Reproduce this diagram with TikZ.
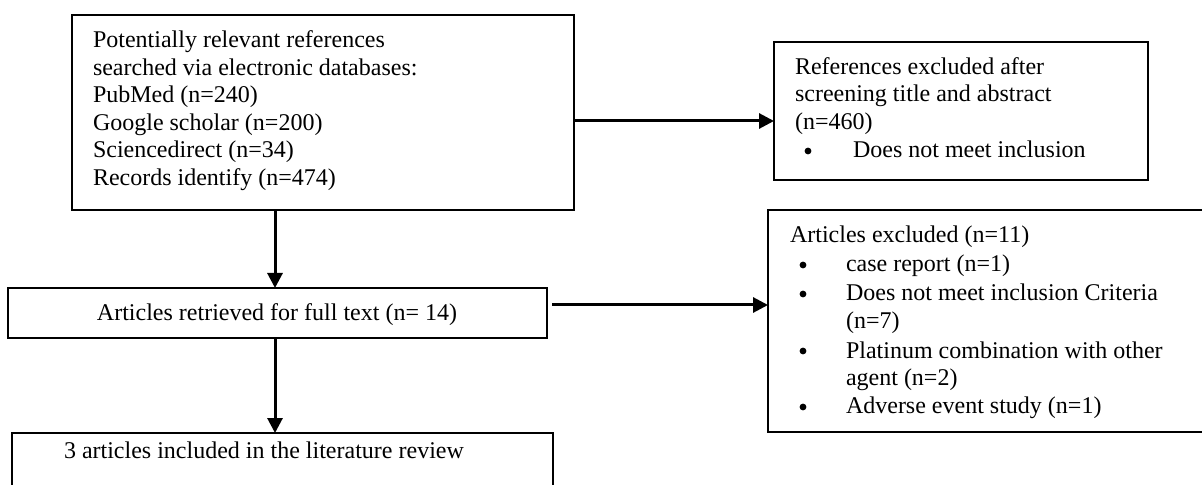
\documentclass[tikz,border=0pt]{standalone}
\usepackage{fontspec}
\setmainfont{Liberation Serif}
\usetikzlibrary{fit,arrows.meta}
\begin{document}
\begin{tikzpicture}[x=0.5pt,y=-0.5pt,
  box/.style={draw, line width=1pt, inner sep=0pt, outer sep=0pt},
  txt/.style={anchor=base west, inner sep=0pt, outer sep=0pt, font=\fontsize{12}{13.8}\selectfont},
  ctxt/.style={anchor=base, inner sep=0pt, outer sep=0pt, font=\fontsize{12}{13.8}\selectfont},
  dot/.style={circle, fill, inner sep=0pt, outer sep=0pt, minimum size=3.4pt},
  arr/.style={line width=1.5pt, -{Triangle[length=7.5pt,width=7.5pt]}}]
\fill[white] (0,0) rectangle (1202,485);
\useasboundingbox (0,0) rectangle (1202,485);

% boxes
\node[box, fit={(72,15) (574,210)}] (A) {};
\node[box, fit={(774,42) (1148,180)}] (E) {};
\node[box, fit={(8,288) (547,338)}] (B) {};
\node[box, fit={(768,210) (1215,432)}] (D) {};
\node[box, fit={(12,433) (553,500)}] (C) {};

% text of A
\node[txt] (a1) at (93,48) {Potentially relevant references};
\node[txt] (a2) at (93,76) {searched via electronic databases:};
\node[txt] (a3) at (93,103) {PubMed (n=240)};
\node[txt] (a4) at (93,131) {Google scholar (n=200)};
\node[txt] (a5) at (93,158) {Sciencedirect (n=34)};
\node[txt] (a6) at (93,186) {Records identify (n=474)};

% text of E
\node[txt] (e1) at (795,75) {References excluded after};
\node[txt] (e2) at (795,102) {screening title and abstract};
\node[txt] (e3) at (795,130) {(n=460)};
\node[dot] (eb) at (808,151) {};
\node[txt] (e4) at (853,158) {Does not meet inclusion};

% text of B
\node[ctxt] (b1) at (277,321) {Articles retrieved for full text (n= 14)};

% text of C
\node[txt] (c1) at (64,458) {3 articles included in the literature review};

% text of D
\node[txt] (d1) at (790,243) {Articles excluded (n=11)};
\node[dot] (db1) at (803,265) {};
\node[txt] (d2) at (846,272) {case report (n=1)};
\node[dot] (db2) at (803,294) {};
\node[txt] (d3) at (846,301) {Does not meet inclusion Criteria};
\node[txt] (d4) at (846,329) {(n=7)};
\node[dot] (db3) at (803,351) {};
\node[txt] (d5) at (846,358) {Platinum combination with other};
\node[txt] (d6) at (846,386) {agent (n=2)};
\node[dot] (db4) at (803,407) {};
\node[txt] (d7) at (846,414) {Adverse event study (n=1)};

% connectors
\coordinate (vx) at (275,0);
\coordinate (hy1) at (0,121);
\coordinate (hy2) at (0,305);
\draw[arr] (A.south -| vx) -- (B.north -| vx);
\draw[arr] (B.south -| vx) -- (C.north -| vx);
\draw[arr] (A.east |- hy1) -- (E.west |- hy1);
\draw[arr] ([xshift=2.5pt]B.east |- hy2) -- (D.west |- hy2);
\end{tikzpicture}
\end{document}
